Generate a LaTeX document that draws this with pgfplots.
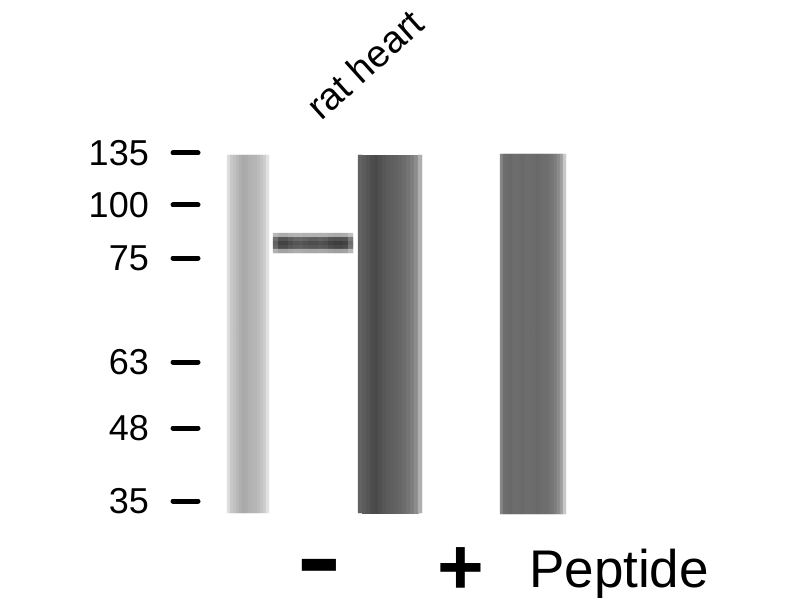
\documentclass[border=0pt]{standalone}
\usepackage{pgfplots}
\pgfplotsset{compat=1.18}
\usepackage{pgfplotstable}
\usepackage{graphicx}
\usepackage{fontspec}
\setmainfont{Liberation Sans}

% lane 1 (light)
\pgfplotstableread{
x y c
228.5 244.5 0.86
231.5 244.5 0.78
234.5 244.5 0.75
237.5 244.5 0.72
240.5 244.5 0.68
243.5 244.5 0.66
246.5 244.5 0.67
249.5 244.5 0.69
252.5 244.5 0.70
255.5 244.5 0.71
258.5 244.5 0.73
261.5 244.5 0.76
264.5 244.5 0.80
267.5 244.5 0.88
228.5 423.5 0.86
231.5 423.5 0.78
234.5 423.5 0.75
237.5 423.5 0.72
240.5 423.5 0.68
243.5 423.5 0.66
246.5 423.5 0.67
249.5 423.5 0.69
252.5 423.5 0.70
255.5 423.5 0.71
258.5 423.5 0.73
261.5 423.5 0.76
264.5 423.5 0.80
267.5 423.5 0.88
}\laneA

% lane 2 (dark)
\pgfplotstableread{
x y c
360 244.5 0.38
364 244.5 0.36
368 244.5 0.33
372 244.5 0.30
376 244.5 0.29
380 244.5 0.31
384 244.5 0.34
388 244.5 0.36
392 244.5 0.37
396 244.5 0.38
400 244.5 0.40
404 244.5 0.42
408 244.5 0.45
412 244.5 0.49
416 244.5 0.55
420 244.5 0.68
360 423.5 0.38
364 423.5 0.36
368 423.5 0.33
372 423.5 0.30
376 423.5 0.29
380 423.5 0.31
384 423.5 0.34
388 423.5 0.36
392 423.5 0.37
396 423.5 0.38
400 423.5 0.40
404 423.5 0.42
408 423.5 0.45
412 423.5 0.49
416 423.5 0.55
420 423.5 0.68
}\laneB

% lane 3 (medium, + peptide)
\pgfplotstableread{
x y c
501.5 244 0.52
504.5 244 0.43
507.5 244 0.42
510.5 244 0.41
513.5 244 0.42
516.5 244 0.43
519.5 244 0.42
522.5 244 0.41
525.5 244 0.42
528.5 244 0.43
531.5 244 0.42
534.5 244 0.42
537.5 244 0.41
540.5 244 0.42
543.5 244 0.43
546.5 244 0.43
549.5 244 0.44
552.5 244 0.46
555.5 244 0.49
558.5 244 0.54
561.5 244 0.62
564.5 244 0.78
501.5 424 0.52
504.5 424 0.43
507.5 424 0.42
510.5 424 0.41
513.5 424 0.42
516.5 424 0.43
519.5 424 0.42
522.5 424 0.41
525.5 424 0.42
528.5 424 0.43
531.5 424 0.42
534.5 424 0.42
537.5 424 0.41
540.5 424 0.42
543.5 424 0.43
546.5 424 0.43
549.5 424 0.44
552.5 424 0.46
555.5 424 0.49
558.5 424 0.54
561.5 424 0.62
564.5 424 0.78
}\laneC

% band near 75 kDa
\pgfplotstableread{
x y c
275.5 235 0.72
280.5 235 0.67
285.5 235 0.67
290.5 235 0.69
295.5 235 0.70
300.5 235 0.70
305.5 235 0.69
310.5 235 0.69
315.5 235 0.69
320.5 235 0.69
325.5 235 0.69
330.5 235 0.67
335.5 235 0.66
340.5 235 0.66
345.5 235 0.67
350.5 235 0.74
275.5 239 0.44
280.5 239 0.33
285.5 239 0.33
290.5 239 0.37
295.5 239 0.40
300.5 239 0.41
305.5 239 0.39
310.5 239 0.37
315.5 239 0.37
320.5 239 0.39
325.5 239 0.37
330.5 239 0.33
335.5 239 0.32
340.5 239 0.32
345.5 239 0.33
350.5 239 0.48
275.5 243 0.38
280.5 243 0.26
285.5 243 0.26
290.5 243 0.30
295.5 243 0.33
300.5 243 0.34
305.5 243 0.32
310.5 243 0.30
315.5 243 0.30
320.5 243 0.32
325.5 243 0.30
330.5 243 0.26
335.5 243 0.24
340.5 243 0.24
345.5 243 0.26
350.5 243 0.42
275.5 247 0.41
280.5 247 0.30
285.5 247 0.30
290.5 247 0.34
295.5 247 0.36
300.5 247 0.37
305.5 247 0.35
310.5 247 0.34
315.5 247 0.34
320.5 247 0.35
325.5 247 0.34
330.5 247 0.30
335.5 247 0.28
340.5 247 0.28
345.5 247 0.30
350.5 247 0.45
275.5 251 0.69
280.5 251 0.63
285.5 251 0.63
290.5 251 0.65
295.5 251 0.67
300.5 251 0.67
305.5 251 0.66
310.5 251 0.65
315.5 251 0.65
320.5 251 0.66
325.5 251 0.65
330.5 251 0.63
335.5 251 0.62
340.5 251 0.62
345.5 251 0.63
350.5 251 0.71
}\band

\begin{document}
\begin{tikzpicture}
\begin{axis}[
  width=800bp, height=600bp, scale only axis,
  xmin=0, xmax=800, ymin=0, ymax=600,
  y dir=reverse, hide axis, clip=false,
  enlargelimits=false,
  colormap={bw}{gray(0cm)=(0); gray(1cm)=(1)},
  point meta min=0, point meta max=1,
]
\addplot[matrix plot*, mesh/cols=14, point meta=explicit] table[x=x, y=y, meta=c] {\laneA};
\addplot[matrix plot*, mesh/cols=16, point meta=explicit] table[x=x, y=y, meta=c] {\band};
\addplot[matrix plot*, mesh/cols=16, point meta=explicit] table[x=x, y=y, meta=c] {\laneB};
\addplot[matrix plot*, mesh/cols=22, point meta=explicit] table[x=x, y=y, meta=c] {\laneC};

% marker dashes
\addplot[black, line width=5bp, line cap=round] coordinates {(173,153) (198,153)};
\addplot[black, line width=5bp, line cap=round] coordinates {(173,205) (198,205)};
\addplot[black, line width=5bp, line cap=round] coordinates {(173,258) (198,258)};
\addplot[black, line width=5bp, line cap=round] coordinates {(173,362) (198,362)};
\addplot[black, line width=5bp, line cap=round] coordinates {(173,428) (198,428)};
\addplot[black, line width=5bp, line cap=round] coordinates {(173,501) (198,501)};

% marker labels
\begin{scope}[every node/.style={anchor=east, inner sep=0pt, font=\fontsize{36bp}{40bp}\selectfont}]
\node at (axis cs:149,153) {135};
\node at (axis cs:149,205) {100};
\node at (axis cs:149,258) {75};
\node at (axis cs:149,362) {63};
\node at (axis cs:149,428) {48};
\node at (axis cs:149,501) {35};
\end{scope}

% lane label
\node[anchor=base west, inner sep=0pt, rotate=42, font=\fontsize{38bp}{42bp}\selectfont] at (axis cs:321,122) {rat heart};

% bottom labels
\node[anchor=base, inner sep=0pt, font=\fontsize{68bp}{72bp}\selectfont\bfseries] at (axis cs:319,601) {\scalebox{1}[1.6]{−}};
\node[anchor=base, inner sep=0pt, font=\fontsize{80bp}{84bp}\selectfont\bfseries] at (axis cs:461,594) {+};
\node[anchor=base west, inner sep=0pt, font=\fontsize{53bp}{58bp}\selectfont] at (axis cs:529,587) {Peptide};
\end{axis}
\pgfresetboundingbox
\path[use as bounding box] (current axis.south west) rectangle (current axis.north east);
\end{tikzpicture}
\end{document}
